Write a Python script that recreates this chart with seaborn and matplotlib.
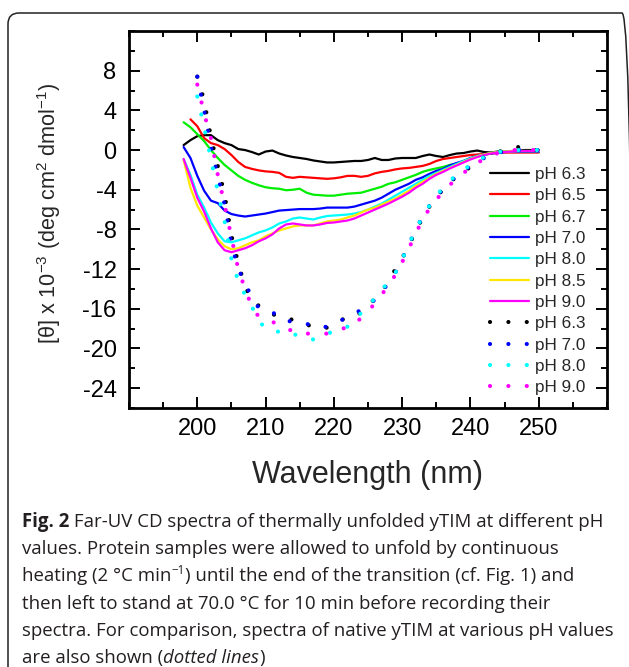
import numpy as np
import pandas as pd
import matplotlib
matplotlib.use("Agg")
import matplotlib.pyplot as plt
import seaborn as sns
from matplotlib.patches import FancyBboxPatch
from matplotlib.transforms import IdentityTransform
from matplotlib.ticker import MultipleLocator

# ---------------- data ----------------
wl_unfolded = list(range(198, 251))
wl_native = list(range(200, 251))

ph63_unf = [0.5, 1.0, 1.4, 1.5, 1.5, 1.0, 0.7, 0.5, 0.1, 0.0,
            -0.2, -0.45, -0.15, -0.05, -0.35, -0.55, -0.7, -0.8, -0.9, -1.05,
            -1.15, -1.25, -1.25, -1.2, -1.15, -1.1, -1.1, -1.0, -0.8, -1.0,
            -1.0, -0.85, -0.8, -0.8, -0.8, -0.6, -0.45, -0.6, -0.7, -0.5,
            -0.35, -0.3, -0.15, -0.05, -0.2, -0.25, -0.15, -0.15, -0.1, -0.05,
            0.0, 0.0, 0.0]
ph65_unf = [np.nan, 3.1, 2.4, 1.2, 0.7, 0.5, 0.1, -0.5, -1.2, -1.7,
            -1.9, -2.05, -2.15, -2.2, -2.3, -2.7, -2.8, -2.7, -2.75, -2.8,
            -2.85, -2.9, -2.85, -2.75, -2.6, -2.6, -2.7, -2.6, -2.35, -2.2,
            -2.1, -1.95, -1.85, -1.8, -1.7, -1.6, -1.4, -1.1, -0.9, -0.8,
            -0.7, -0.6, -0.5, -0.45, -0.4, -0.35, -0.3, -0.25, -0.25, -0.25,
            -0.25, -0.25, -0.25]
ph67_unf = [2.8, 2.3, 1.6, 0.9, 0.0, -0.8, -1.5, -2.05, -2.6, -3.0,
            -3.3, -3.55, -3.75, -3.85, -3.9, -4.05, -4.0, -3.9, -4.3, -4.5,
            -4.55, -4.6, -4.6, -4.5, -4.4, -4.35, -4.3, -4.1, -3.9, -3.7,
            -3.4, -3.25, -3.0, -2.75, -2.5, -2.2, -2.0, -1.85, -1.7, -1.5,
            -1.35, -1.1, -0.85, -0.65, -0.5, -0.35, -0.25, -0.2, -0.17, -0.17,
            -0.17, -0.17, -0.17]
ph70_unf = [0.3, -0.8, -2.6, -4.1, -5.1, -5.35, -6.1, -6.45, -6.6, -6.7,
            -6.6, -6.5, -6.4, -6.25, -6.1, -6.05, -6.0, -5.95, -5.95, -5.95,
            -5.9, -5.8, -5.8, -5.8, -5.8, -5.7, -5.5, -5.3, -5.1, -4.8,
            -4.4, -4.0, -3.7, -3.4, -3.0, -2.75, -2.4, -2.1, -1.9, -1.55,
            -1.3, -1.1, -0.8, -0.6, -0.45, -0.35, -0.25, -0.2, -0.17, -0.17,
            -0.17, -0.17, -0.17]
ph80_unf = [-0.9, -2.5, -4.5, -5.8, -7.3, -8.4, -9.2, -9.3, -9.1, -8.9,
            -8.6, -8.3, -8.1, -7.8, -7.4, -7.2, -6.9, -6.8, -6.9, -7.0,
            -6.8, -6.65, -6.6, -6.55, -6.5, -6.4, -6.25, -6.0, -5.7, -5.4,
            -5.0, -4.6, -4.2, -3.8, -3.4, -3.0, -2.6, -2.3, -2.0, -1.7,
            -1.4, -1.1, -0.85, -0.6, -0.45, -0.3, -0.2, -0.15, -0.12, -0.1,
            -0.1, -0.1, -0.1]
ph85_unf = [-1.0, -3.8, -5.6, -6.8, -8.0, -9.0, -9.7, -10.0, -9.9, -9.6,
            -9.3, -9.1, -8.7, -8.4, -8.1, -7.9, -7.7, -7.6, -7.6, -7.6,
            -7.4, -7.2, -7.1, -7.0, -6.8, -6.6, -6.3, -6.0, -5.8, -5.5,
            -5.2, -4.9, -4.5, -4.1, -3.6, -3.2, -2.8, -2.4, -2.1, -1.8,
            -1.5, -1.2, -0.9, -0.65, -0.45, -0.3, -0.2, -0.15, -0.12, -0.1,
            -0.1, -0.1, -0.1]
ph90_unf = [-0.9, -2.8, -4.8, -6.2, -7.9, -9.3, -10.1, -10.3, -10.1, -9.9,
            -9.6, -9.2, -8.9, -8.5, -7.9, -7.5, -7.4, -7.5, -7.6, -7.6,
            -7.5, -7.35, -7.3, -7.2, -7.1, -6.9, -6.6, -6.3, -6.0, -5.7,
            -5.4, -5.05, -4.7, -4.3, -3.8, -3.4, -2.9, -2.5, -2.2, -1.85,
            -1.55, -1.25, -0.95, -0.7, -0.5, -0.35, -0.25, -0.2, -0.15, -0.1,
            -0.1, -0.1, -0.1]

ph63_nat = [7.4, 5.0, 1.3, -1.6, -4.5, -8.6, -11.4, -13.8, -15.1, -15.7,
            -16.2, -16.5, -16.9, -17.0, -17.1, -17.4, -17.6, -17.8, -18.0, -17.9,
            -17.6, -17.1, -17.0, -16.9, -16.3, -15.6, -15.0, -14.2, -13.3, -12.0,
            -10.9, -9.6, -8.2, -6.8, -5.7, -4.7, -4.0, -3.2, -2.7, -2.2,
            -1.7, -1.2, -0.7, -0.4, -0.2, 0.0, 0.1, 0.3, 0.3, 0.0,
            0.0]
ph70_nat = [7.4, 4.0, 0.3, -2.6, -5.5, -9.5, -12.0, -13.4, -14.9, -15.9,
            -16.2, -16.3, -17.0, -17.2, -17.3, -17.4, -17.5, -17.8, -17.9, -17.8,
            -17.6, -17.2, -16.8, -16.5, -16.1, -15.6, -15.1, -14.3, -13.4, -12.4,
            -11.0, -9.5, -8.0, -6.7, -5.6, -4.7, -3.9, -3.2, -2.6, -2.1,
            -1.6, -1.2, -0.8, -0.5, -0.3, -0.1, 0.0, 0.0, 0.1, 0.0,
            0.0]
ph80_nat = [5.4, 2.3, -0.9, -4.2, -7.2, -11.0, -13.2, -14.6, -15.8, -17.2,
            -18.0, -18.3, -18.3, -18.2, -18.5, -18.8, -18.9, -19.1, -18.8, -18.5,
            -18.3, -18.1, -17.8, -17.2, -16.4, -15.8, -14.9, -14.1, -13.3, -12.4,
            -11.0, -9.5, -8.0, -6.7, -5.6, -4.6, -3.8, -3.1, -2.5, -2.0,
            -1.5, -1.1, -0.7, -0.4, -0.2, -0.1, 0.0, 0.0, 0.0, 0.0,
            0.0]
ph90_nat = [6.6, 3.7, 1.2, -2.5, -5.5, -8.8, -12.0, -14.0, -15.8, -16.8,
            -17.0, -17.3, -17.7, -17.9, -18.3, -18.5, -18.5, -18.5, -18.5, -18.5,
            -18.4, -18.1, -17.8, -17.6, -16.9, -16.2, -15.5, -14.6, -13.6, -12.6,
            -11.3, -9.9, -8.4, -7.0, -5.9, -5.0, -4.2, -3.5, -2.9, -2.3,
            -1.8, -1.3, -0.9, -0.6, -0.3, -0.1, 0.0, 0.0, 0.0, 0.0,
            0.0]

unfolded_labels = ["pH 6.3", "pH 6.5", "pH 6.7", "pH 7.0", "pH 8.0", "pH 8.5", "pH 9.0"]
unfolded_series = [ph63_unf, ph65_unf, ph67_unf, ph70_unf, ph80_unf, ph85_unf, ph90_unf]
unfolded_colors = ["#000000", "#ff0000", "#00ee00", "#0000ff", "#00ffff", "#ffe800", "#ff00ff"]

native_labels = ["pH 6.3", "pH 7.0", "pH 8.0", "pH 9.0"]
native_series = [ph63_nat, ph70_nat, ph80_nat, ph90_nat]
native_colors = ["#000000", "#0000ff", "#00ffff", "#ff00ff"]

x_ticks = [200, 210, 220, 230, 240, 250]
y_ticks = [8, 4, 0, -4, -8, -12, -16, -20, -24]

# caption runs: (text, kind) ; kind in normal / bold / italic / sup
caption_runs = [
    [("Fig. 2", "bold"), (" Far-UV CD spectra of thermally unfolded yTIM at different pH", "normal")],
    [("values. Protein samples were allowed to unfold by continuous", "normal")],
    [("heating (2 °C min", "normal"), ("\u2212" + "1", "sup"),
     (") until the end of the transition (cf. Fig. 1) and", "normal")],
    [("then left to stand at 70.0 °C for 10 min before recording their", "normal")],
    [("spectra. For comparison, spectra of native yTIM at various pH values", "normal")],
    [("are also shown (", "normal"), ("dotted lines", "italic"), (")", "normal")],
]

# ---------------- style ----------------
sns.set_theme(style="ticks")
plt.rcParams["font.family"] = ["Liberation Sans", "DejaVu Sans"]
plt.rcParams["mathtext.fontset"] = "custom"
plt.rcParams["mathtext.rm"] = "Liberation Sans"
plt.rcParams["mathtext.it"] = "Liberation Sans:italic"
plt.rcParams["mathtext.bf"] = "Liberation Sans:bold"

W, H = 629, 667
fig = plt.figure(figsize=(W / 100, H / 100), dpi=100)
fig.patch.set_facecolor("white")
renderer = fig.canvas.get_renderer()

# rounded frame around the figure + caption
frame = FancyBboxPatch((8, -20), 625, H - 13 + 20,
                       boxstyle="round,pad=0,rounding_size=11",
                       transform=IdentityTransform(), fill=False,
                       edgecolor="#222222", linewidth=1.1)
fig.patches.append(frame)

ax_l, ax_r, ax_t, ax_b = 129, 607, 31, 408
ax = fig.add_axes([ax_l / W, 1 - ax_b / H, (ax_r - ax_l) / W, (ax_b - ax_t) / H])

for lab, ys, col in zip(unfolded_labels, unfolded_series, unfolded_colors):
    df = pd.DataFrame({"wl": wl_unfolded, "v": ys}).dropna()
    sns.lineplot(data=df, x="wl", y="v", color=col, linewidth=1.6, ax=ax,
                 label=lab, sort=False, estimator=None)

for lab, ys, col in zip(native_labels, native_series, native_colors):
    df = pd.DataFrame({"wl": wl_native, "v": ys})
    sns.lineplot(data=df, x="wl", y="v", color=col, linewidth=3.0, ax=ax,
                 label=lab, sort=False, estimator=None,
                 linestyle=(0, (0.01, 4.4)), dash_capstyle="round")

ax.set_xlim(190, 260)
ax.set_ylim(-26, 12)
ax.set_xticks(x_ticks)
ax.set_yticks(y_ticks)
ax.set_xticklabels([str(t) for t in x_ticks])
ax.set_yticklabels([str(t) for t in y_ticks])
ax.xaxis.set_minor_locator(MultipleLocator(5))
ax.yaxis.set_minor_locator(MultipleLocator(2))
ax.tick_params(which="both", direction="in", top=True, right=True,
               width=1.4, colors="black")
ax.tick_params(which="major", length=8, labelsize=17, pad=7)
ax.tick_params(which="minor", length=4.5)
ax.tick_params(axis="y", which="major", pad=9)
for s in ax.spines.values():
    s.set_linewidth(2.0)
    s.set_color("black")
ax.set_xlabel("")
ax.set_ylabel("")

leg = ax.legend(loc="upper left", bbox_to_anchor=((490 - ax_l) / (ax_r - ax_l),
                                                  1 - (167 - ax_t) / (ax_b - ax_t)),
                frameon=False, fontsize=12.3, handlelength=2.3, handletextpad=0.35,
                labelspacing=0.37, borderpad=0, borderaxespad=0)

fig.text(368 / W, 1 - 475 / H, "Wavelength (nm)", fontsize=22,
         ha="center", va="center")
fig.text(49 / W, 1 - 213 / H,
         r"[θ] x 10$^{-3}$ (deg cm$^{2}$ dmol$^{-1}$)",
         fontsize=15.6, rotation=90, ha="center", va="center")

# caption, drawn run by run along each baseline
cap_family = ["Open Sans", "DejaVu Sans"]
cap_size = 13.4
cap_color = "#231f20"
for i, runs in enumerate(caption_runs):
    x = 22.0
    base = 527 + 27.2 * i
    for txt, kind in runs:
        kw = dict(fontsize=cap_size, family=cap_family, color=cap_color,
                  ha="left", va="baseline")
        y = base
        if kind == "bold":
            kw["fontweight"] = "bold"
        elif kind == "italic":
            kw["fontstyle"] = "italic"
        elif kind == "sup":
            kw["fontsize"] = cap_size * 0.62
            y = base - 7
        t = fig.text(x / W, 1 - y / H, txt, **kw)
        bb = t.get_window_extent(renderer=renderer)
        x = bb.x1

fig.savefig("out.png", dpi=100)
